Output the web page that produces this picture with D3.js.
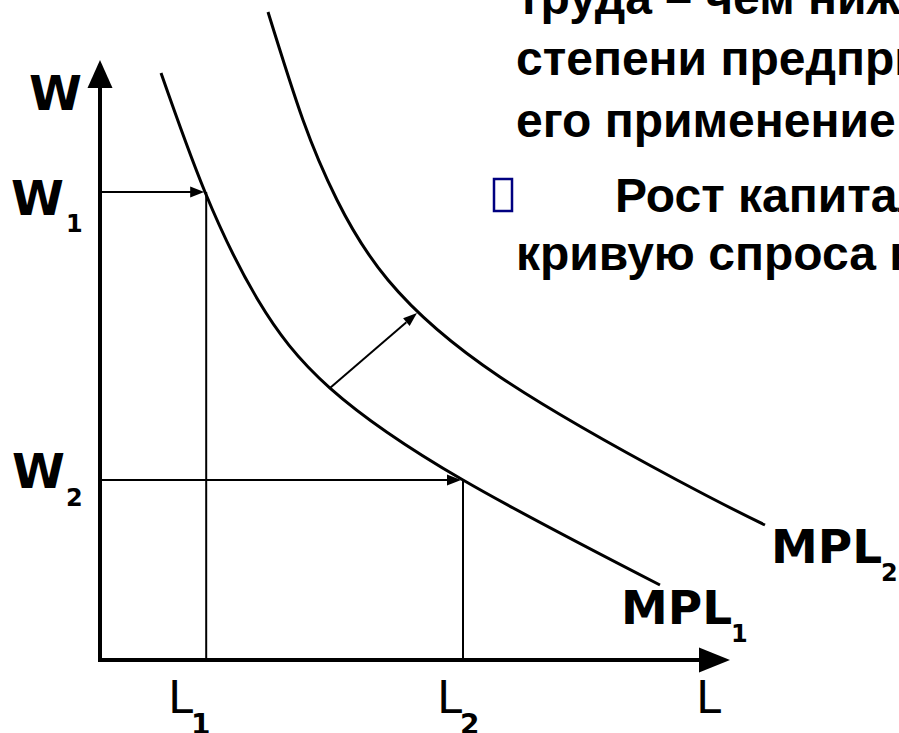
<!DOCTYPE html>
<html>
<head>
<meta charset="utf-8">
<script src="https://cdn.jsdelivr.net/npm/d3@7"></script>
<style>
html, body { margin: 0; padding: 0; background: #fff; overflow: hidden; }
svg { display: block; }
</style>
</head>
<body>
<div id="chart"></div>
<script>
var width = 899,
    height = 733;

// demand curves, as [L, W]
var mpl1 = [[10.17, 97.83], [17.5, 78], [26.33, 60], [38.33, 45.33], [60.5, 30], [93.33, 12.5]];
var mpl2 = [[28, 108], [33.83, 90], [39.5, 76.67], [48, 63.33], [66.67, 47.17], [96.17, 30], [110.83, 22.5]];

// wage levels and the labour they give
var wageLevels = [78, 30];
var labourLevels = [17.7, 60.5];
var levelSubs = ["1", "2"];

// shift of the curve
var shiftArrow = [[38.33, 45.33], [52.83, 57.83]];

var axisMax = [105, 100];

var slideLines = ["труда – чем ниже", "степени предпринимателю", "его применение",
                  "Рост капитала сдвигает", "кривую спроса на труд"];

var svg = d3.select('#chart').append('svg')
    .attr('width', width)
    .attr('height', height);

// scales
let x = d3.scaleLinear().domain([0, 100]).range([100, 700]);
let y = d3.scaleLinear().domain([0, 100]).range([660, 60]);

// filled arrow head: tip point, direction from a point behind it
function head(tip, from, len, half) {
    let dx = tip[0] - from[0], dy = tip[1] - from[1];
    let d = Math.sqrt(dx * dx + dy * dy);
    let ux = dx / d, uy = dy / d;
    let bx = tip[0] - ux * len, by = tip[1] - uy * len;
    return [[tip[0], tip[1]], [bx - uy * half, by + ux * half], [bx + uy * half, by - ux * half]];
}
function drawHead(pts) {
    svg.append("polygon")
        .attr("points", pts.map(p => p.join(",")).join(" "))
        .attr("fill", "#000");
}

// axes
let ox = x(0), oy = y(0);
let yTip = [ox, y(axisMax[1])], xTip = [x(axisMax[0]), oy];
svg.append("line")
    .attr("x1", ox).attr("y1", oy + 2).attr("x2", ox).attr("y2", yTip[1] + 20)
    .attr("stroke", "#000").attr("stroke-width", 4);
svg.append("line")
    .attr("x1", ox - 2).attr("y1", oy).attr("x2", xTip[0] - 20).attr("y2", oy)
    .attr("stroke", "#000").attr("stroke-width", 4);
drawHead(head(yTip, [ox, oy], 28, 12.5));
drawHead(head(xTip, [ox, oy], 31, 12.5));

// drop lines with arrows at W1, W2
wageLevels.forEach((w, i) => {
    let lx = x(labourLevels[i]), wy = y(w);
    svg.append("line")
        .attr("x1", ox).attr("y1", wy).attr("x2", lx - 14).attr("y2", wy)
        .attr("stroke", "#000").attr("stroke-width", 2);
    drawHead(head([lx - 2, wy], [ox, wy], 14, 5.5));
    svg.append("line")
        .attr("x1", lx).attr("y1", wy).attr("x2", lx).attr("y2", oy)
        .attr("stroke", "#000").attr("stroke-width", 2);
});

// curves
let line = d3.line()
    .x(d => x(d[0]))
    .y(d => y(d[1]))
    .curve(d3.curveNatural);
[mpl1, mpl2].forEach(c => {
    svg.append("path")
        .attr("d", line(c))
        .attr("fill", "none")
        .attr("stroke", "#000")
        .attr("stroke-width", 3);
});

// shift arrow
let s0 = [x(shiftArrow[0][0]), y(shiftArrow[0][1])];
let s1 = [x(shiftArrow[1][0]), y(shiftArrow[1][1])];
let sh = head(s1, s0, 14, 5);
svg.append("line")
    .attr("x1", s0[0]).attr("y1", s0[1])
    .attr("x2", (sh[1][0] + sh[2][0]) / 2).attr("y2", (sh[1][1] + sh[2][1]) / 2)
    .attr("stroke", "#000").attr("stroke-width", 2);
drawHead(sh);

// labels
function label(tx, ty, t, size, weight, fam) {
    svg.append("text")
        .attr("x", tx).attr("y", ty)
        .attr("font-family", fam || "'DejaVu Sans', Verdana, sans-serif")
        .attr("font-size", size)
        .attr("font-weight", weight)
        .text(t);
}
label(29, 110, "W", 48, "bold");
label(11, 215, "W", 48, "bold");
label(66, 232, levelSubs[0], 24, "bold");
label(12, 488, "W", 48, "bold");
label(66, 506, levelSubs[1], 24, "bold");

label(771, 563, "MPL", 47, "bold");
label(881, 581, "2", 24, "bold");
label(621, 624, "MPL", 47, "bold");
label(731, 642, "1", 24, "bold");

label(168, 713, "L", 45, "normal");
label(191, 734, levelSubs[0], 28, "bold");
label(437, 713, "L", 45, "normal");
label(460, 734, levelSubs[1], 28, "bold");
label(696, 713, "L", 45, "normal");

// slide text on the right
let para = svg.append("g")
    .attr("font-family", "'Liberation Sans', Arial, sans-serif")
    .attr("font-size", 48)
    .attr("font-weight", "bold");
let baseY = [14, 75, 137, 212, 270];
let startX = [517, 516, 516, 615, 516];
slideLines.forEach((t, i) => {
    para.append("text")
        .attr("x", startX[i]).attr("y", baseY[i])
        .text(t);
});
svg.append("rect")
    .attr("x", 494).attr("y", 179).attr("width", 18).attr("height", 32)
    .attr("fill", "none").attr("stroke", "#000080").attr("stroke-width", 2.5);
</script>
</body>
</html>
